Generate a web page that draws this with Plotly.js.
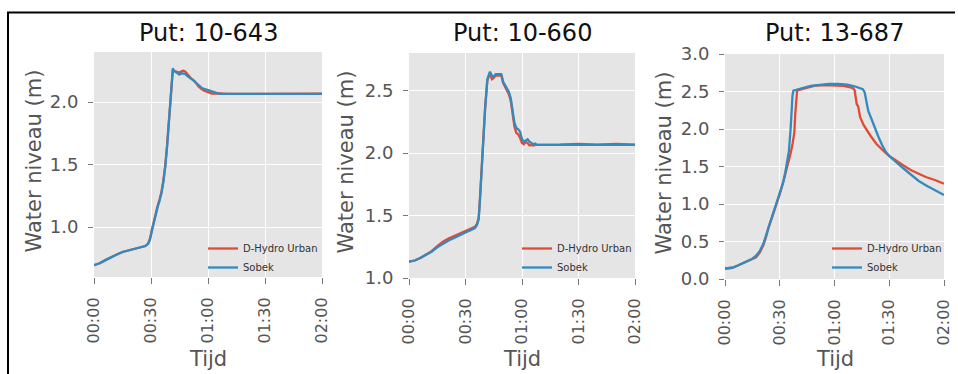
<!DOCTYPE html>
<html>
<head>
<meta charset="utf-8">
<script src="https://cdn.plot.ly/plotly-3.0.1.min.js"></script>
<style>
html,body{margin:0;padding:0;background:#fff;}
#chart{width:958px;height:374px;}
</style>
</head>
<body>
<div id="chart"></div>
<script>
// ---------- DATA (time in minutes since 00:00, water level in m) ----------
var tickVals = [0, 30, 60, 90, 120];
var tickText = ["00:00", "00:30", "01:00", "01:30", "02:00"];
var seriesNames = ["D-Hydro Urban", "Sobek"];
var panelTitles = ["Put: 10-643", "Put: 10-660", "Put: 13-687"];

// Put 10-643
var t643Sobek = [0,3,6,9,12,15,18,21,24,27,28.5,29.5,30.5,31.5,32.5,33.5,34.5,35.5,36.5,37.5,38.5,39.5,40.5,41.5,42,43,44,45,46,47,48,49,50,51,52,53,54,55,56,57,58,59,60,61,62,63,64,65,66,68,70,80,90,100,110,120];
var v643Sobek = [0.695,0.71,0.735,0.76,0.78,0.80,0.813,0.825,0.835,0.848,0.865,0.90,0.97,1.04,1.10,1.16,1.21,1.27,1.36,1.48,1.65,1.86,2.10,2.27,2.25,2.24,2.23,2.22,2.23,2.23,2.225,2.21,2.20,2.19,2.18,2.165,2.15,2.135,2.12,2.11,2.105,2.10,2.09,2.085,2.08,2.078,2.072,2.07,2.066,2.065,2.065,2.065,2.065,2.066,2.065,2.065];
var t643DHydro = [0,3,6,9,12,15,18,21,24,27,28.5,29.5,30.5,31.5,32.5,33.5,34.5,35.5,36.5,37.5,38.5,39.5,40.5,41.5,42,43,44,45,46,47,48,49,50,51,52,53,54,55,56,57,58,59,60,61,62,63,64,65,66,68,70,80,90,100,110,120];
var v643DHydro = [0.695,0.71,0.735,0.76,0.78,0.80,0.813,0.825,0.835,0.848,0.868,0.91,0.98,1.05,1.11,1.17,1.22,1.28,1.37,1.49,1.66,1.87,2.11,2.26,2.25,2.245,2.24,2.235,2.245,2.25,2.245,2.225,2.205,2.19,2.18,2.165,2.145,2.125,2.11,2.10,2.09,2.085,2.075,2.07,2.068,2.07,2.068,2.066,2.065,2.066,2.065,2.066,2.067,2.066,2.067,2.066];

// Put 10-660
var t660Sobek = [0,3,6,9,12,15,18,21,24,27,30,33,35,36,37,37.7,38.6,39.5,40.4,41.6,43,44,45,46,47,48,49,50,51,52,53,54,55,56,57,58,59,60,61,62,63,64,65,66,67,68,70,80,90,100,110,120];
var v660Sobek = [1.13,1.14,1.16,1.185,1.21,1.245,1.275,1.30,1.32,1.345,1.365,1.385,1.40,1.42,1.47,1.63,1.90,2.15,2.35,2.59,2.65,2.62,2.61,2.63,2.63,2.63,2.63,2.57,2.54,2.52,2.49,2.44,2.35,2.24,2.20,2.19,2.17,2.11,2.09,2.10,2.11,2.09,2.08,2.07,2.075,2.065,2.065,2.065,2.065,2.065,2.065,2.065];
var t660DHydro = [0,3,6,9,12,15,18,21,24,27,30,33,35,36,37,37.7,38.6,39.5,40.4,41.6,43,44,45,46,47,48,49,50,51,52,53,54,55,56,57,58,59,60,61,62,63,64,65,66,67,68,70,80,90,100,110,120];
var v660DHydro = [1.13,1.14,1.16,1.185,1.215,1.255,1.29,1.315,1.335,1.355,1.375,1.395,1.41,1.43,1.48,1.64,1.91,2.16,2.36,2.58,2.64,2.59,2.60,2.62,2.62,2.62,2.62,2.56,2.53,2.51,2.47,2.42,2.32,2.21,2.16,2.15,2.12,2.08,2.07,2.09,2.08,2.06,2.065,2.06,2.065,2.065,2.065,2.066,2.072,2.066,2.072,2.066];

// Put 13-687
var t687Sobek = [0,2,4,7,10,13,15,17,19,21,22.5,24,26,28,30,32,33,34,35,36,36.6,37,37.5,40,43,47,52,57,62,67,71,74,75.5,76.5,77.5,78.5,80,82,84,86,88,90,94,98,102,106,110,115,120];
var v687Sobek = [0.14,0.145,0.15,0.18,0.21,0.245,0.27,0.31,0.37,0.47,0.58,0.71,0.84,0.98,1.13,1.30,1.42,1.55,1.70,2.02,2.30,2.45,2.51,2.53,2.55,2.575,2.59,2.60,2.60,2.59,2.57,2.55,2.53,2.49,2.38,2.24,2.15,2.02,1.90,1.79,1.70,1.64,1.55,1.47,1.39,1.31,1.25,1.19,1.12];
var t687DHydro = [0,2,4,7,10,13,15,17,19,21,22.5,24,26,28,30,32,34,35,36,37,38,38.5,39,39.5,42,46,50,55,60,65,68,70,71,71.7,72.2,73,74,76,78,80,83,86,88,90,94,98,102,106,110,115,120];
var v687DHydro = [0.14,0.145,0.15,0.18,0.21,0.24,0.26,0.29,0.35,0.45,0.56,0.70,0.84,0.98,1.13,1.30,1.48,1.58,1.68,1.80,1.95,2.20,2.45,2.51,2.53,2.56,2.58,2.585,2.585,2.575,2.56,2.545,2.52,2.40,2.33,2.30,2.16,2.05,1.97,1.90,1.80,1.72,1.68,1.64,1.57,1.51,1.45,1.40,1.36,1.32,1.27];

var yRanges = [[0.6, 2.4], [1.0, 2.8], [0.0, 3.0]];
var yTicks = [[1.0, 1.5, 2.0], [1.0, 1.5, 2.0, 2.5], [0.0, 0.5, 1.0, 1.5, 2.0, 2.5, 3.0]];

// ---------- LAYOUT HELPERS (pixels -> paper) ----------
var W = 958, H = 374;
function X(px){ return px / W; }
function Y(py){ return 1 - py / H; }

var red = "#E24A33", blue = "#348ABD";
var panels = [
  {l: 94, r: 322, top: 52, bot: 277, ytitle: 33, legX: 323},
  {l: 409, r: 635, top: 53, bot: 278, ytitle: 345, legX: 637},
  {l: 725, r: 944, top: 54, bot: 279, ytitle: 663, legX: 947}
];

var dh = [[t643DHydro, v643DHydro], [t660DHydro, v660DHydro], [t687DHydro, v687DHydro]];
var sb = [[t643Sobek, v643Sobek], [t660Sobek, v660Sobek], [t687Sobek, v687Sobek]];

var traces = [];
var layout = {
  width: W, height: H,
  margin: {l: 0, r: 0, t: 0, b: 0},
  paper_bgcolor: "#ffffff",
  plot_bgcolor: "#E5E5E5",
  font: {family: "DejaVu Sans", color: "#555555"},
  showlegend: true,
  annotations: [],
  shapes: [
    {type: "line", xref: "paper", yref: "paper", x0: X(7), x1: X(955), y0: Y(12.5), y1: Y(12.5), line: {color: "#000", width: 2}},
    {type: "line", xref: "paper", yref: "paper", x0: X(8), x1: X(8), y0: Y(12), y1: Y(380), line: {color: "#000", width: 2}}
  ]
};

for (var i = 0; i < 3; i++) {
  var p = panels[i];
  var sfx = i === 0 ? "" : String(i + 1);
  var legName = "legend" + sfx;
  traces.push({x: dh[i][0], y: dh[i][1], type: "scatter", mode: "lines", name: seriesNames[0],
    xaxis: "x" + sfx, yaxis: "y" + sfx, legend: legName, line: {color: red, width: 2.3}});
  traces.push({x: sb[i][0], y: sb[i][1], type: "scatter", mode: "lines", name: seriesNames[1],
    xaxis: "x" + sfx, yaxis: "y" + sfx, legend: legName, line: {color: blue, width: 2.3}});

  layout["xaxis" + sfx] = {
    domain: [X(p.l), X(p.r)], anchor: "y" + sfx, range: [0, 120],
    tickvals: tickVals, ticktext: tickText, tickangle: -90,
    ticks: "outside", ticklen: 6, tickcolor: "#777", tickwidth: 1,
    ticklabelstandoff: 7,
    showgrid: true, gridcolor: "#ffffff", gridwidth: 1,
    zeroline: false, showline: false,
    tickfont: {size: 16, color: "#555555", family: "DejaVu Sans"}
  };
  layout["yaxis" + sfx] = {
    domain: [Y(p.bot), Y(p.top)], anchor: "x" + sfx, range: yRanges[i],
    tickvals: yTicks[i], ticktext: yTicks[i].map(function(v){ return v.toFixed(1); }),
    ticks: "outside", ticklen: 5, tickcolor: "#777", tickwidth: 1,
    ticklabelstandoff: 6,
    showgrid: true, gridcolor: "#ffffff", gridwidth: 1,
    zeroline: false, showline: false,
    tickfont: {size: 18, color: "#555555", family: "DejaVu Sans"}
  };
  layout[legName] = {
    x: X(p.legX), y: Y(282), xanchor: "right", yanchor: "bottom",
    xref: "paper", yref: "paper",
    bgcolor: "rgba(0,0,0,0)", borderwidth: 0,
    font: {size: 10, color: "#333333", family: "DejaVu Sans"},
    tracegroupgap: 0
  };
  // subplot title
  layout.annotations.push({text: panelTitles[i], xref: "paper", yref: "paper",
    x: X((p.l + p.r) / 2), y: Y(33), xanchor: "center", yanchor: "middle", showarrow: false,
    font: {size: 24, color: "#111111", family: "DejaVu Sans"}});
  // x axis title
  layout.annotations.push({text: "Tijd", xref: "paper", yref: "paper",
    x: X((p.l + p.r) / 2), y: Y(359), xanchor: "center", yanchor: "middle", showarrow: false,
    font: {size: 21, color: "#555555", family: "DejaVu Sans"}});
  // y axis title
  layout.annotations.push({text: "Water niveau (m)", xref: "paper", yref: "paper",
    x: X(p.ytitle), y: Y((p.top + p.bot) / 2 - 3), xanchor: "center", yanchor: "middle", showarrow: false,
    textangle: -90, font: {size: 21, color: "#555555", family: "DejaVu Sans"}});
}

Plotly.newPlot("chart", traces, layout, {displayModeBar: false, staticPlot: true});
</script>
</body>
</html>
